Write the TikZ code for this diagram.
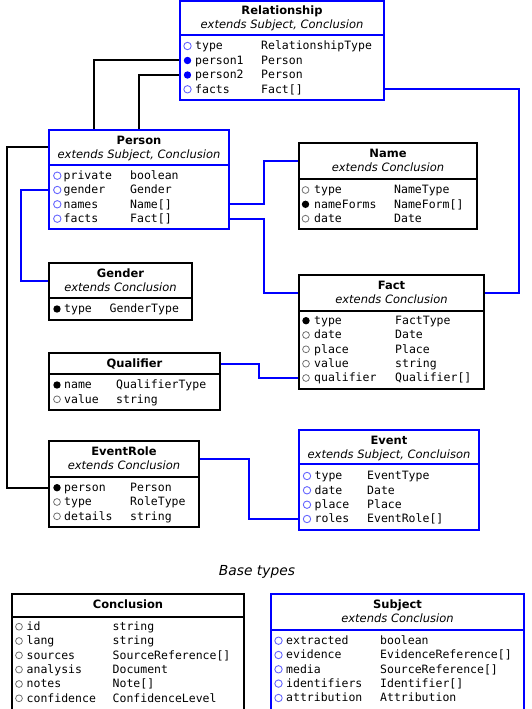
\documentclass[tikz,border=0pt]{standalone}
\usepackage{fontspec}
\setmainfont{DejaVu Sans}
\newfontfamily\monof{DejaVu Sans Mono}
\pgfdeclarelayer{bg}
\pgfsetlayers{bg,main}
\newcommand{\attr}[8]{%
  \node[#2] (#1c) at (#3,#6) {};
  \node[attrtext] (#1) at (#4,#6) {#7};
  \node[attrtext] (#1t) at (#5,#6) {#8};
}
\tikzset{
  boxpart/.style={rectangle, line width=2pt, inner sep=0pt, outer sep=0pt, anchor=north west},
  bluepart/.style={boxpart, draw=blue},
  blackpart/.style={boxpart, draw=black},
  titletext/.style={font=\fontsize{11.5}{14}\selectfont\bfseries, inner sep=0pt, text height=8.3pt, text depth=2.2pt, yshift=-0.8pt},
  exttext/.style={font=\fontsize{11.5}{14}\selectfont\itshape, inner sep=0pt, text height=8.3pt, text depth=2.2pt, yshift=-0.8pt},
  basetext/.style={font=\fontsize{13.8}{16}\selectfont\itshape, inner sep=0pt},
  attrtext/.style={font=\monof\fontsize{11.5}{14}\selectfont, inner sep=0pt, anchor=west, text height=8.3pt, text depth=2.2pt, yshift=-0.8pt},
  dotbase/.style={circle, inner sep=0pt, outer sep=0pt},
  dotBO/.style={dotbase, minimum size=7.4pt, draw=blue!60, line width=0.9pt, fill=white},
  dotBF/.style={dotbase, minimum size=7.4pt, fill=blue},
  dotKO/.style={dotbase, minimum size=6.8pt, draw=black!55, line width=0.8pt},
  dotKF/.style={dotbase, minimum size=7.4pt, fill=black},
  bconn/.style={draw=blue, line width=2pt},
  kconn/.style={draw=black, line width=2pt},
}
\begin{document}
\begin{tikzpicture}[x=1pt,y=-1pt]
\useasboundingbox (0,0) rectangle (531,709);

% Relationship
\node[bluepart, minimum width=204, minimum height=34] (relH) at (180,1) {};
\node[bluepart, minimum width=204, minimum height=65] (relB) at (180,35) {};
\node[titletext] (relT) at (282,10.7) {Relationship};
\node[exttext] (relE) at (282,24.5) {extends Subject, Conclusion};
\attr{rtype}{dotBO}{187.5}{195}{261}{46}{type}{RelationshipType}
\attr{rp1}{dotBF}{187.5}{195}{261}{60.5}{person1}{Person}
\attr{rp2}{dotBF}{187.5}{195}{261}{75}{person2}{Person}
\attr{rfacts}{dotBO}{187.5}{195}{261}{89.3}{facts}{Fact[]}

% Person
\node[bluepart, minimum width=180, minimum height=35.5] (personH) at (49,129.5) {};
\node[bluepart, minimum width=180, minimum height=64] (personB) at (49,165) {};
\node[titletext] (personT) at (139,140.3) {Person};
\node[exttext] (personE) at (139,154.3) {extends Subject, Conclusion};
\attr{ppriv}{dotBO}{57.3}{63.5}{130}{175.7}{private}{boolean}
\attr{pgen}{dotBO}{57.3}{63.5}{130}{190}{gender}{Gender}
\attr{pnames}{dotBO}{57.3}{63.5}{130}{204.3}{names}{Name[]}
\attr{pfacts}{dotBO}{57.3}{63.5}{130}{218.7}{facts}{Fact[]}

% Name
\node[blackpart, minimum width=178, minimum height=36] (nameH) at (299,143.3) {};
\node[blackpart, minimum width=178, minimum height=49.7] (nameB) at (299,179.3) {};
\node[titletext] (nameT) at (388,153.5) {Name};
\node[exttext] (nameE) at (388,167.7) {extends Conclusion};
\attr{ntype}{dotKO}{305.5}{314}{394}{190}{type}{NameType}
\attr{nforms}{dotKF}{305.5}{314}{394}{204.3}{nameForms}{NameForm[]}
\attr{ndate}{dotKO}{305.5}{314}{394}{218.7}{date}{Date}

% Fact
\node[blackpart, minimum width=185, minimum height=36] (factH) at (299,275) {};
\node[blackpart, minimum width=185, minimum height=78] (factB) at (299,311) {};
\node[titletext] (factT) at (391.5,285.5) {Fact};
\node[exttext] (factE) at (391.5,299.5) {extends Conclusion};
\attr{ftype}{dotKF}{306}{314}{395}{320.7}{type}{FactType}
\attr{fdate}{dotKO}{306}{314}{395}{335}{date}{Date}
\attr{fplace}{dotKO}{306}{314}{395}{349.3}{place}{Place}
\attr{fvalue}{dotKO}{306}{314}{395}{363.7}{value}{string}
\attr{fqual}{dotKO}{306}{314}{395}{378}{qualifier}{Qualifier[]}

% Gender
\node[blackpart, minimum width=143, minimum height=35.3] (genderH) at (49,263) {};
\node[blackpart, minimum width=143, minimum height=21.7] (genderB) at (49,298.3) {};
\node[titletext] (genderT) at (120.5,273.5) {Gender};
\node[exttext] (genderE) at (120.5,287.3) {extends Conclusion};
\attr{gtype}{dotKF}{57}{64}{109.5}{309}{type}{GenderType}

% Qualifier
\node[blackpart, minimum width=171, minimum height=21.6] (qualH) at (49,352.7) {};
\node[blackpart, minimum width=171, minimum height=35.7] (qualB) at (49,374.3) {};
\node[titletext] (qualT) at (134.5,363.5) {Qualifier};
\attr{qname}{dotKF}{57}{64}{116}{385}{name}{QualifierType}
\attr{qvalue}{dotKO}{57}{64}{116}{399.3}{value}{string}

% EventRole
\node[blackpart, minimum width=150, minimum height=35.7] (erH) at (49,441) {};
\node[blackpart, minimum width=150, minimum height=50.3] (erB) at (49,476.7) {};
\node[titletext] (erT) at (124,451.7) {EventRole};
\node[exttext] (erE) at (124,465.7) {extends Conclusion};
\attr{erp}{dotKF}{57}{64}{130}{487.7}{person}{Person}
\attr{ertype}{dotKO}{57}{64}{130}{502}{type}{RoleType}
\attr{erdet}{dotKO}{57}{64}{130}{516.3}{details}{string}

% Event
\node[bluepart, minimum width=180, minimum height=34.3] (evH) at (299,430) {};
\node[bluepart, minimum width=180, minimum height=65.7] (evB) at (299,464.3) {};
\node[titletext] (evT) at (389,440.7) {Event};
\node[exttext] (evE) at (389,454.7) {extends Subject, Concluison};
\attr{evtype}{dotBO}{307}{314.5}{367}{476}{type}{EventType}
\attr{evdate}{dotBO}{307}{314.5}{367}{490.3}{date}{Date}
\attr{evplace}{dotBO}{307}{314.5}{367}{504.7}{place}{Place}
\attr{evroles}{dotBO}{307}{314.5}{367}{519}{roles}{EventRole[]}

% Base types
\node[basetext] (base) at (257,572) {Base types};

% Conclusion
\node[blackpart, minimum width=232, minimum height=23.3] (conH) at (12,594) {};
\node[blackpart, minimum width=232, minimum height=93.2] (conB) at (12,617.3) {};
\node[titletext] (conT) at (128,604.5) {Conclusion};
\attr{cid}{dotKO}{19}{26.5}{112.5}{626.7}{id}{string}
\attr{clang}{dotKO}{19}{26.5}{112.5}{641}{lang}{string}
\attr{csrc}{dotKO}{19}{26.5}{112.5}{655.3}{sources}{SourceReference[]}
\attr{cana}{dotKO}{19}{26.5}{112.5}{669.6}{analysis}{Document}
\attr{cnotes}{dotKO}{19}{26.5}{112.5}{684}{notes}{Note[]}
\attr{cconf}{dotKO}{19}{26.5}{112.5}{698.3}{confidence}{ConfidenceLevel}

% Subject
\node[bluepart, minimum width=253, minimum height=36] (subH) at (271,594) {};
\node[bluepart, minimum width=253, minimum height=80.5] (subB) at (271,630) {};
\node[titletext] (subT) at (397.5,604.5) {Subject};
\node[exttext] (subE) at (397.5,619) {extends Conclusion};
\attr{sext}{dotBO}{278.5}{286}{380}{640.7}{extracted}{boolean}
\attr{sevid}{dotBO}{278.5}{286}{380}{655}{evidence}{EvidenceReference[]}
\attr{smedia}{dotBO}{278.5}{286}{380}{669.3}{media}{SourceReference[]}
\attr{sident}{dotBO}{278.5}{286}{380}{683.6}{identifiers}{Identifier[]}
\attr{sattr}{dotBO}{278.5}{286}{380}{698}{attribution}{Attribution}

% Connectors
\begin{pgfonlayer}{bg}
\draw[kconn] (relB.west |- rp1c) -| (personH.north -| 94,0);
\draw[kconn] (relB.west |- rp2c) -| (personH.north -| 138.5,0);
\draw[kconn] (personH.west) -- ++(-42,0) |- (erB.west |- erpc);
\draw[bconn] (personB.west |- pgenc) -- ++(-28.5,0) |- (genderH.west);
\draw[bconn] (personB.east |- pnamesc) -- ++(35,0) |- (nameH.west);
\draw[bconn] (personB.east |- pfactsc) -- ++(35,0) |- (factH.west);
\draw[bconn] (factH.east) -- ++(35.3,0) |- (relB.east |- rfactsc);
\draw[bconn] (qualH.east) -- ++(39.3,0) |- (factB.west |- fqualc);
\draw[bconn] (erH.east) -- ++(50,0) |- (evB.west |- evrolesc);
\end{pgfonlayer}
\end{tikzpicture}
\end{document}
